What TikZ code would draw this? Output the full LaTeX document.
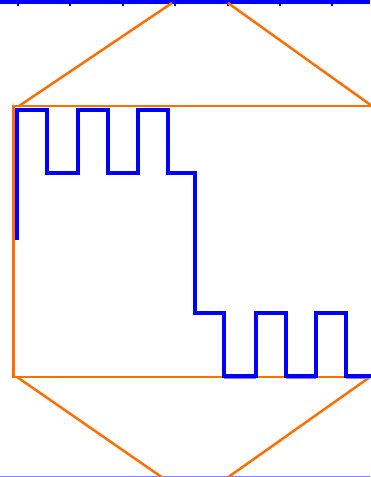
\documentclass[tikz,border=0pt]{standalone}
\definecolor{zoomorange}{RGB}{255,110,0}
\definecolor{waveblue}{RGB}{0,0,255}
\definecolor{lightaxis}{RGB}{128,128,255}
\definecolor{faintpurple}{RGB}{140,120,255}
\begin{document}
\begin{tikzpicture}[x=1pt,y=-1pt,
  orangeline/.style={draw=zoomorange, line width=2.5pt},
  waveline/.style={draw=waveblue, line width=4pt, line join=miter},
  axisline/.style={draw=waveblue, line width=4pt},
  tickline/.style={draw=waveblue, line width=2.5pt},
  faintline/.style={draw=faintpurple, line width=2pt}]
\useasboundingbox (0,0) rectangle (370,477);
% top axis
\draw[axisline] (0,2) -- (370,2);
\foreach \x in {18,70,123,175,228,280,332}
  \draw[tickline] (\x,0) -- (\x,6);
% bottom axis
\draw[draw=lightaxis, line width=1.5pt] (0,476.5) -- (370,476.5);
% zoom lines
\draw[orangeline] (172,3) -- (19,106);
\draw[orangeline] (228,3) -- (372,106);
\draw[orangeline] (17,377) -- (163,478);
\draw[orangeline] (370,377) -- (227,478);
% inset frame
\draw[orangeline] (372,106) -- (13.5,106) -- (13.5,377) -- (372,377);
% faint underlying segments
\draw[faintline] (224,377.5) -- (256,377.5);
\draw[faintline] (286,377.5) -- (316,377.5);
\draw[faintline] (346,377.5) -- (370,377.5);
% waveform
\draw[waveline] (17,240) -- (17,110) -- (47,110) -- (47,173) -- (78,173) -- (78,110)
  -- (108,110) -- (108,173) -- (138,173) -- (138,110) -- (168,110) -- (168,173)
  -- (195,173) -- (195,313) -- (224,313) -- (224,376) -- (256,376) -- (256,313)
  -- (286,313) -- (286,376) -- (316,376) -- (316,313) -- (346,313) -- (346,376)
  -- (372,376);
\end{tikzpicture}
\end{document}
